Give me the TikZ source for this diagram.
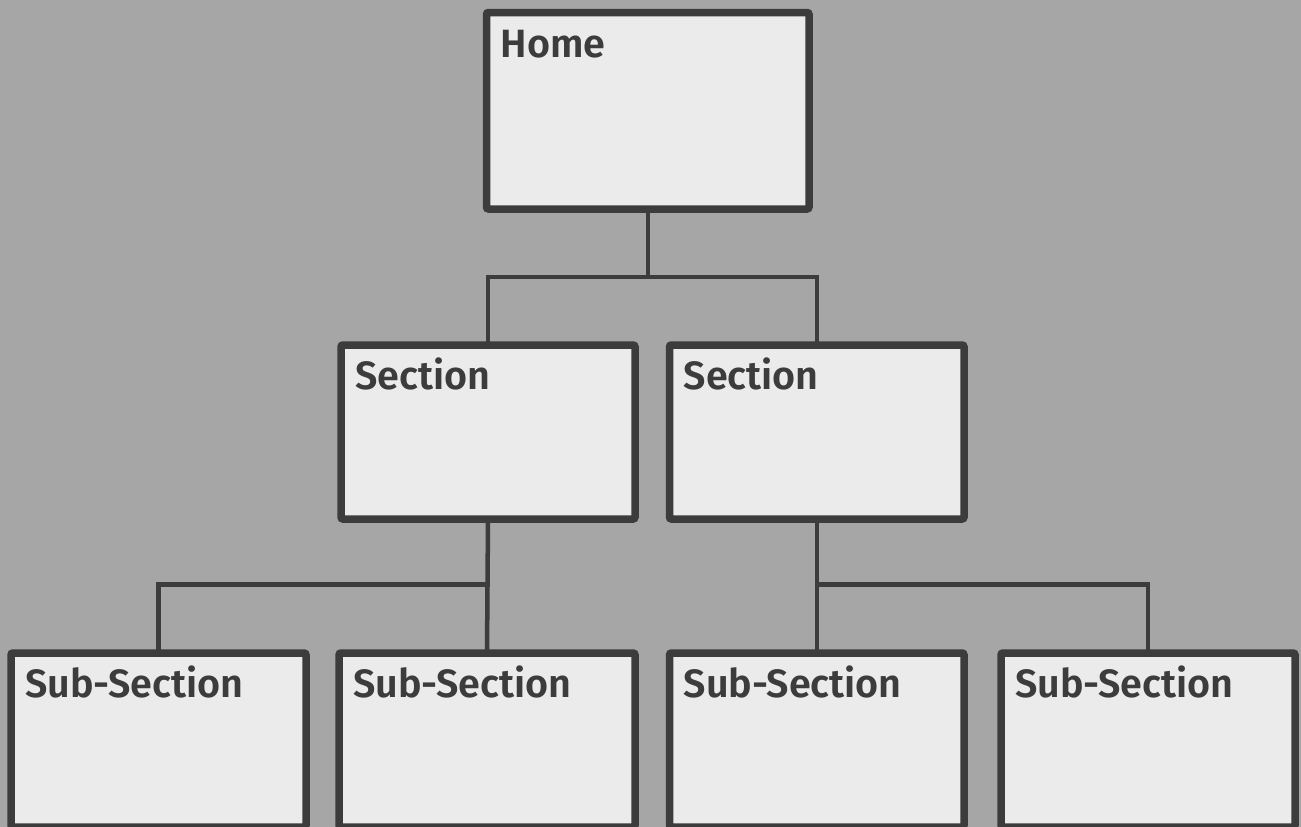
\documentclass[tikz,border=0pt]{standalone}
\usepackage{fontspec}
\setmainfont{Fira Sans}[BoldFont={* SemiBold}]
\definecolor{bggray}{HTML}{A6A6A6}
\definecolor{boxgray}{HTML}{EBEBEB}
\definecolor{linegray}{HTML}{3C3C3C}
\tikzset{
  title/.style={anchor=base west,inner sep=0pt,xshift=14pt,yshift=-44.5pt,
    text=linegray,font=\fontsize{39.5}{46}\selectfont\bfseries},
  box/.style={draw=linegray,fill=boxgray,line width=7.5pt,rounded corners=2pt,
    anchor=north west,outer sep=0pt,inner sep=0pt,label={[title]north west:#1}},
  link/.style={draw=linegray,line width=4.5pt}
}
\begin{document}
\begin{tikzpicture}[x=1pt,y=-1pt]
\useasboundingbox[fill=bggray] (0,0) rectangle (1301,827);
\def\h{174} % height of the lower boxes
% top level
\node[box=Home,minimum width=322.5pt,minimum height=196.5pt,
  every label/.append style={xshift=4pt,yshift=-5pt}] (home) at (486.5,12.5) {};
% sections
\node[box=Section,minimum width=294pt,minimum height=\h pt] (secL) at (341,345) {};
\node[box=Section,minimum width=294.5pt,minimum height=\h pt] (secR) at (669.5,345) {};
% sub-sections
\foreach \n/\a/\w in {1/11/295,2/339/296,3/669.5/294.5,4/1001/294} {
	\node[box=Sub-Section,minimum width=\w pt,minimum height=\h pt] (sub\n) at (\a,653) {};
}
% connectors
\draw[link] (home.south) -- ++(0,68) -| (secL.north);
\draw[link] (home.south) ++(0,68) -| (secR.north);
\draw[link] (secL.south) -- ++(0,65.5) -| (sub1.north);
\draw[link] (secL.south) -- (sub2.north);
\draw[link] (secR.south) -- (sub3.north);
\draw[link] (secR.south) ++(0,65.5) -| (sub4.north);
\end{tikzpicture}
\end{document}
